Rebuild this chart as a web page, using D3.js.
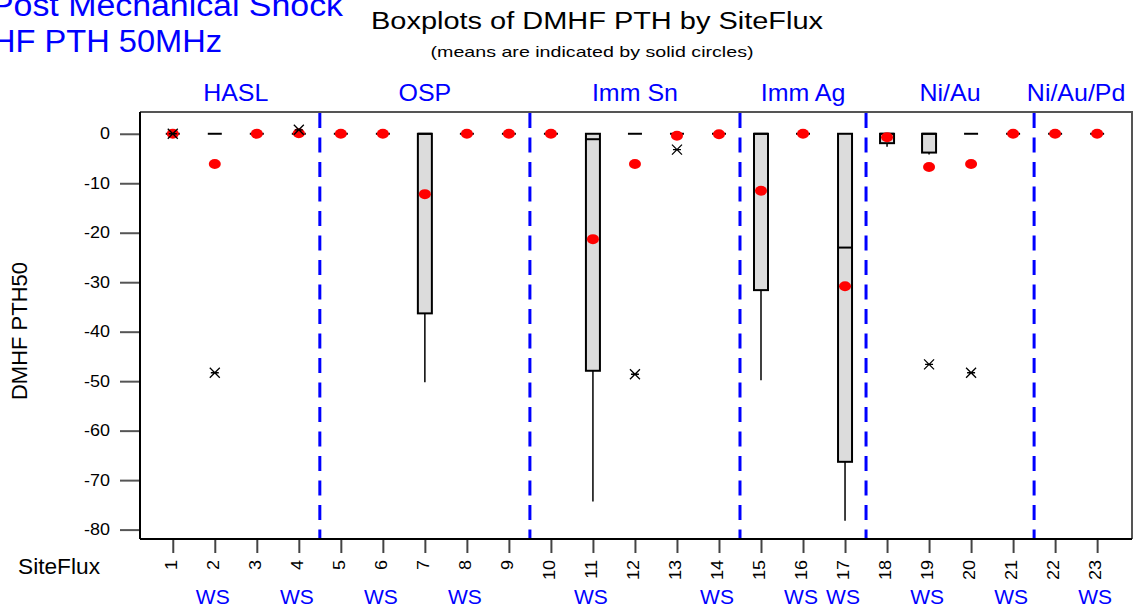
<!DOCTYPE html>
<html><head><meta charset="utf-8">
<script src="https://cdn.jsdelivr.net/npm/d3@7"></script>
<style>
body{margin:0;background:#fff;}
svg{display:block;}
text{font-family:"Liberation Sans",Arial,sans-serif;}
</style>
</head><body>
<svg id="c" width="1139" height="609"></svg>
<script>
// ---- data ----
const siteFlux = d3.range(1, 24);
const boxQ3    = [0,0,0,0,0,0, 0,0,0,0, 0,0,0,0, 0,0, 0, 0, 0,0,0,0,0];
const boxMed   = [0,0,0,0,0,0, 0,0,0,0, -1.1,0,0,0, 0,0, -23, 0, 0,0,0,0,0];
const boxQ1    = [0,0,0,0,0,0, -36.3,0,0,0, -47.9,0,0,0, -31.6,0, -66.3, -1.9, -3.8,0,0,0,0];
const whiskLow = [0,0,0,0,0,0, -50.2,0,0,0, -74.3,0,0,0, -49.8,0, -78.2, -2.6, -4.2,0,0,0,0];
const whiskHigh= [0,0,0,0,0,0, 0,0,0,0, 0,0,0,0, 0,0, 0, 0, 0,0,0,0,0];
const means    = [0,-6.1,0,0.1,0,0, -12.2,0,0,0, -21.3,-6.1,-0.4,-0.1, -11.5,0, -30.8, -0.7, -6.7,-6.1,0,0,0];
const outlierSite  = [1, 2, 4, 12, 13, 19, 20];
const outlierValue = [0, -48.3, 0.8, -48.6, -3.2, -46.6, -48.3];
const groupNames = ["HASL","OSP","Imm Sn","Imm Ag","Ni/Au","Ni/Au/Pd"];
const groupStart = [1, 5, 10, 15, 18, 22];
const groupEnd   = [4, 9, 14, 17, 21, 23];
const wsSites = [2, 4, 6, 8, 11, 14, 16, 17, 19, 21, 23];
const yTicks = [0, -10, -20, -30, -40, -50, -60, -70, -80];

// ---- layout ----
const svg = d3.select("#c");
const L = 140, R = 1132, T = 112, B = 539;
const x = d3.scaleLinear().domain([0.22, 23.83]).range([L, R]);
const y = d3.scaleLinear().domain([-81.9, 4.4]).range([B, T]);
const blue = "#0000ff";

function fit(sel, w) { sel.attr("textLength", w).attr("lengthAdjust", "spacingAndGlyphs"); return sel; }
function stretch(sel, f) {
  sel.each(function() {
    const l = this.getComputedTextLength();
    d3.select(this).attr("textLength", l * f).attr("lengthAdjust", "spacingAndGlyphs");
  });
}

// titles
fit(svg.append("text").attr("x", 343).attr("y", 16).attr("text-anchor", "end")
  .attr("font-size", 31).attr("fill", blue).text("Post Mechanical Shock"), 352);
fit(svg.append("text").attr("x", 222).attr("y", 52).attr("text-anchor", "end")
  .attr("font-size", 31).attr("fill", blue).text("HF PTH 50MHz"), 230);
fit(svg.append("text").attr("x", 597).attr("y", 29).attr("text-anchor", "middle")
  .attr("font-size", 23).attr("fill", "#000").text("Boxplots of DMHF PTH by SiteFlux"), 452);
fit(svg.append("text").attr("x", 592).attr("y", 57).attr("text-anchor", "middle")
  .attr("font-size", 15).attr("fill", "#000").text("(means are indicated by solid circles)"), 323);

// group labels (centred between separators / frame)
const gLeft = (i) => Math.max(L, x(groupStart[i] - 0.5));
const gRight = (i) => Math.min(R, x(groupEnd[i] + 0.5));
svg.append("g").selectAll("text").data(groupNames).join("text")
  .attr("x", (d, i) => (gLeft(i) + gRight(i)) / 2)
  .attr("y", 101).attr("text-anchor", "middle")
  .attr("font-size", 24).attr("fill", blue).text(d => d)
  .call(s => stretch(s, 1.04));

// y axis
const yAxis = svg.append("g").attr("transform", `translate(${L},0)`)
  .call(d3.axisLeft(y).tickValues(yTicks).tickSize(20).tickPadding(10).tickFormat(d => String(d)));
yAxis.select(".domain").remove();
yAxis.selectAll(".tick line").attr("stroke", "#555").attr("stroke-width", 2);
yAxis.selectAll(".tick text").attr("font-size", 16).attr("font-family", "Liberation Sans, Arial, sans-serif")
  .attr("fill", "#000").call(s => stretch(s, 1.12));

// x axis
const xAxis = svg.append("g").attr("transform", `translate(0,${B})`)
  .call(d3.axisBottom(x).tickValues(siteFlux).tickSize(14).tickFormat(d => String(d)));
xAxis.select(".domain").remove();
xAxis.selectAll(".tick line").attr("stroke", "#444").attr("stroke-width", 2);
xAxis.selectAll(".tick text")
  .attr("font-size", 17).attr("font-family", "Liberation Sans, Arial, sans-serif").attr("fill", "#000")
  .attr("text-anchor", "end").attr("dy", null).attr("y", null)
  .attr("transform", "translate(3.5,21) rotate(-90)")
  .call(s => stretch(s, 1.06));

fit(svg.append("text").attr("x", 18).attr("y", 574).attr("font-size", 22).text("SiteFlux"), 82);
fit(svg.append("text").attr("transform", "translate(27,331) rotate(-90)").attr("text-anchor", "middle")
  .attr("font-size", 22).text("DMHF PTH50"), 138);

// WS labels
svg.append("g").selectAll("text").data(wsSites).join("text")
  .attr("x", d => x(d) - 2).attr("y", 604).attr("text-anchor", "middle")
  .attr("font-size", 21).attr("fill", blue).text("WS");

// frame
svg.append("path").attr("d", `M${L},${T}H${R}V${B}`).attr("fill", "none").attr("stroke", "#555").attr("stroke-width", 2);
svg.append("line").attr("x1", L).attr("x2", R).attr("y1", B).attr("y2", B).attr("stroke", "#000").attr("stroke-width", 2);
svg.append("line").attr("x1", L).attr("x2", L).attr("y1", T).attr("y2", B).attr("stroke", "#000").attr("stroke-width", 2);

// group separators
svg.append("g").selectAll("line").data(groupEnd.slice(0, -1)).join("line")
  .attr("x1", d => x(d + 0.5)).attr("x2", d => x(d + 0.5))
  .attr("y1", T + 1).attr("y2", B - 1)
  .attr("stroke", blue).attr("stroke-width", 3).attr("stroke-dasharray", "15,9.5");

// boxes
const bw = 14;
const g = svg.append("g");
g.selectAll("line.wl").data(siteFlux).join("line").attr("class", "wl")
  .attr("x1", d => x(d)).attr("x2", d => x(d))
  .attr("y1", (d, i) => y(boxQ1[i])).attr("y2", (d, i) => y(whiskLow[i]))
  .attr("stroke", "#000").attr("stroke-width", 1.5);
g.selectAll("line.wh").data(siteFlux).join("line").attr("class", "wh")
  .attr("x1", d => x(d)).attr("x2", d => x(d))
  .attr("y1", (d, i) => y(boxQ3[i])).attr("y2", (d, i) => y(whiskHigh[i]))
  .attr("stroke", "#000").attr("stroke-width", 1.5);
g.selectAll("rect").data(siteFlux).join("rect")
  .attr("x", d => x(d) - bw / 2).attr("width", bw)
  .attr("y", (d, i) => y(boxQ3[i])).attr("height", (d, i) => y(boxQ1[i]) - y(boxQ3[i]))
  .attr("fill", "#dcdcdc").attr("stroke", "#000").attr("stroke-width", 2);
g.selectAll("line.md").data(siteFlux).join("line").attr("class", "md")
  .attr("x1", d => x(d) - bw / 2).attr("x2", d => x(d) + bw / 2)
  .attr("y1", (d, i) => y(boxMed[i])).attr("y2", (d, i) => y(boxMed[i]))
  .attr("stroke", "#000").attr("stroke-width", 2);

// means
g.selectAll("ellipse").data(siteFlux).join("ellipse")
  .attr("cx", d => x(d)).attr("cy", (d, i) => y(means[i]))
  .attr("rx", 6).attr("ry", 5).attr("fill", "#ff0000");

// outliers
const star = "M-5,-5L5,5M-5,5L5,-5M-4,0H4";
g.selectAll("path.out").data(outlierSite).join("path").attr("class", "out")
  .attr("d", star)
  .attr("transform", (d, i) => `translate(${x(d)},${y(outlierValue[i])})`)
  .attr("stroke", "#000").attr("stroke-width", 1.3).attr("fill", "none");
</script>
</body></html>
